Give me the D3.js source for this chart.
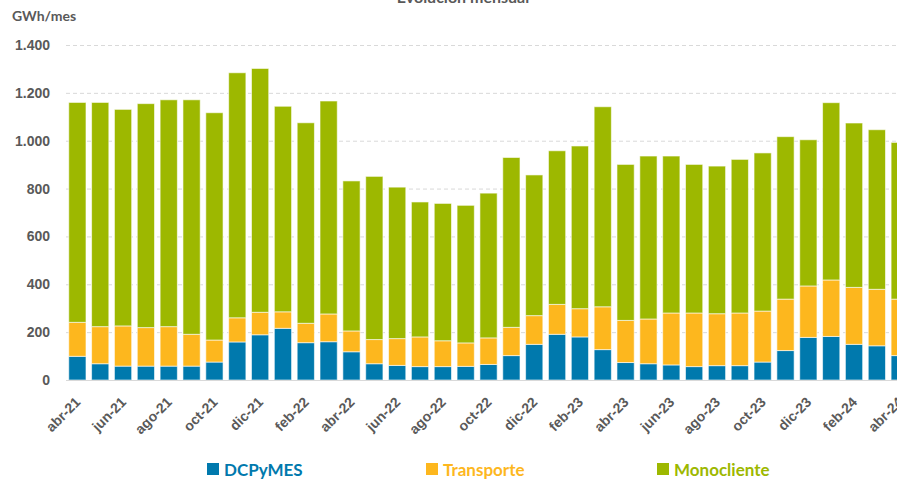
<!DOCTYPE html>
<html>
<head>
<meta charset="utf-8">
<script src="https://cdn.jsdelivr.net/npm/d3@7"></script>
<style>
  body { margin: 0; background: #fff; }
  svg { display: block; font-family: Lato, "Open Sans", sans-serif; }
</style>
</head>
<body>
<script>
'use strict';

var months = ["abr-21","may-21","jun-21","jul-21","ago-21","sep-21","oct-21","nov-21","dic-21","ene-22","feb-22","mar-22",
              "abr-22","may-22","jun-22","jul-22","ago-22","sep-22","oct-22","nov-22","dic-22","ene-23","feb-23","mar-23",
              "abr-23","may-23","jun-23","jul-23","ago-23","sep-23","oct-23","nov-23","dic-23","ene-24","feb-24","mar-24","abr-24"];

var dcpymes     = [99, 68, 58, 58, 58, 58, 75, 159, 189, 216, 156, 160,
                   118, 68, 61, 56, 56, 57, 65, 102, 149, 191, 180, 127,
                   73, 68, 63, 56, 60, 60, 75, 123, 178, 182, 149, 143, 102];
var transporte  = [142, 155, 168, 161, 165, 133, 92, 101, 94, 69, 81, 116,
                   87, 101, 112, 124, 108, 98, 111, 118, 120, 125, 118, 179,
                   176, 187, 217, 224, 217, 220, 213, 215, 215, 236, 238, 236, 236];
var monocliente = [919, 937, 905, 936, 948, 980, 950, 1024, 1019, 859, 838, 890,
                   627, 682, 633, 564, 574, 575, 605, 710, 588, 642, 680, 836,
                   652, 681, 656, 621, 617, 642, 661, 679, 611, 741, 687, 667, 655];

var seriesNames = ["DCPyMES", "Transporte", "Monocliente"];
var seriesColors = ["#0079ad", "#fdb71e", "#9db800"];
var yTicks = [0, 200, 400, 600, 800, 1000, 1200, 1400];

var chart = {};
chart.width = 897;
chart.height = 480;

chart.run = function(){
    var svg = d3.select("body").append("svg")
        .attr("width", chart.width)
        .attr("height", chart.height);

    var rows = months.map(function(m, i){
        return {month: m, DCPyMES: dcpymes[i], Transporte: transporte[i], Monocliente: monocliente[i]};
    });
    var stacked = d3.stack().keys(seriesNames)(rows);

    var xScale = d3.scaleBand()
        .domain(months)
        .range([66, 66 + months.length * 22.84])
        .paddingInner(0.245)
        .paddingOuter(0.12);

    var yScale = d3.scaleLinear()
        .domain([0, 1400])
        .range([380, 45]);

    var fmt = d3.formatLocale({decimal: ",", thousands: ".", grouping: [3], currency: ["", ""]}).format(",");

    // grid
    svg.append("g").selectAll("line")
        .data(yTicks.slice(1))
        .enter().append("line")
        .attr("x1", 66).attr("x2", chart.width)
        .attr("y1", function(d){ return yScale(d) + 0.5; })
        .attr("y2", function(d){ return yScale(d) + 0.5; })
        .attr("stroke", "#d9d9d9")
        .attr("stroke-dasharray", "4,3");

    // y labels
    var yAxis = svg.append("g")
        .attr("transform", "translate(50,0)")
        .call(d3.axisLeft(yScale).tickValues(yTicks).tickFormat(fmt).tickSize(0).tickPadding(0));
    yAxis.select(".domain").remove();
    yAxis.selectAll("text")
        .attr("fill", "#595959")
        .style("font-size", "14px")
        .style("font-weight", "bold");

    // bars
    svg.append("g").selectAll("g")
        .data(stacked)
        .enter().append("g")
        .attr("fill", function(d, i){ return seriesColors[i]; })
        .selectAll("rect")
        .data(function(d){ return d; })
        .enter().append("rect")
        .attr("x", function(d){ return xScale(d.data.month); })
        .attr("width", xScale.bandwidth())
        .attr("y", function(d){ return yScale(d[1]); })
        .attr("height", function(d){ return yScale(d[0]) - yScale(d[1]); })
        .attr("stroke", "#ffffff")
        .attr("stroke-opacity", 0.6)
        .attr("stroke-width", 1);

    // x axis
    var xAxis = svg.append("g")
        .attr("transform", "translate(0,380)")
        .call(d3.axisBottom(xScale)
            .tickValues(months.filter(function(m, i){ return i % 2 === 0; }))
            .tickSize(0).tickPadding(0));
    xAxis.select(".domain").remove();
    xAxis.append("line")
        .attr("x1", 66).attr("x2", chart.width)
        .attr("y1", 0.5).attr("y2", 0.5)
        .attr("stroke", "#d9d9d9");
    xAxis.selectAll("text")
        .attr("fill", "#595959")
        .style("font-size", "14px")
        .style("font-weight", "bold")
        .attr("text-anchor", "end")
        .attr("x", 0).attr("y", 0).attr("dy", 0)
        .attr("transform", "translate(4,23) rotate(-45)");

    // titles
    svg.append("text")
        .attr("x", 463).attr("y", 3)
        .attr("text-anchor", "middle")
        .attr("fill", "#595959")
        .style("font-size", "16px")
        .style("font-weight", "bold")
        .text("Evolución mensual");

    svg.append("text")
        .attr("x", 12).attr("y", 21)
        .attr("fill", "#595959")
        .style("font-size", "14px")
        .style("font-weight", "bold")
        .text("GWh/mes");

    // legend
    var legendX = [207, 426, 657];
    var legend = svg.append("g").selectAll("g")
        .data(seriesNames)
        .enter().append("g")
        .attr("transform", function(d, i){ return "translate(" + legendX[i] + ",463)"; });
    legend.append("rect")
        .attr("width", 12).attr("height", 12)
        .attr("fill", function(d, i){ return seriesColors[i]; });
    legend.append("text")
        .attr("x", 17).attr("y", 13)
        .attr("fill", function(d, i){ return seriesColors[i]; })
        .style("font-size", "17px")
        .style("font-weight", "bold")
        .text(function(d){ return d; });
};

window.onload = chart.run;
</script>
</body>
</html>
